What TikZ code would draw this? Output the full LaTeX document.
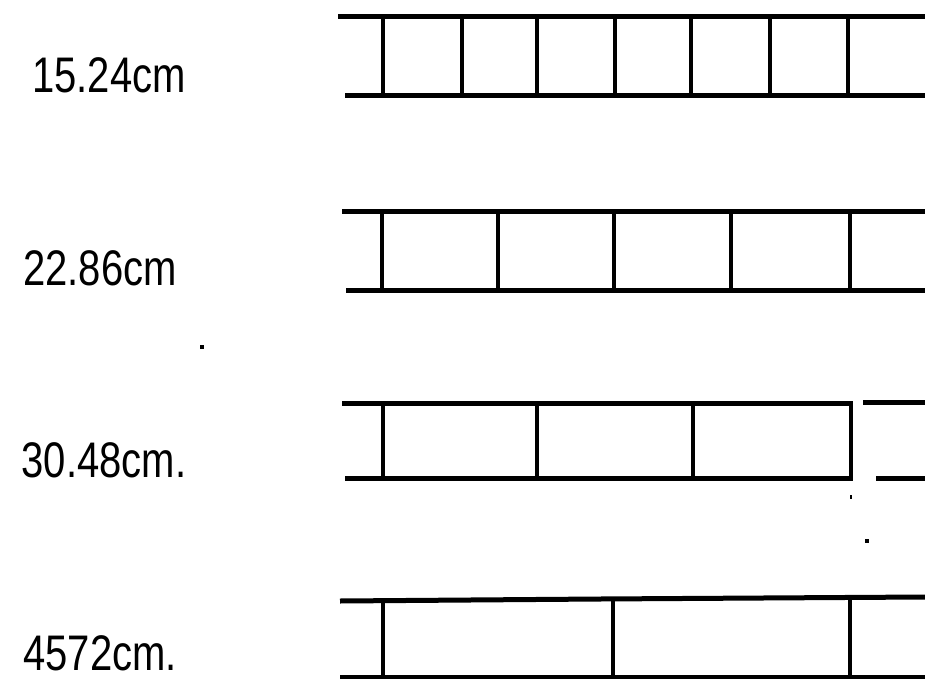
\documentclass[tikz,border=0pt]{standalone}
\usepackage{fontspec}
\setmainfont{Liberation Sans}
\begin{document}
\begin{tikzpicture}[x=1pt,y=-1pt,
  rail/.style={line width=5pt},
  post/.style={line width=3.6pt},
  lbl/.style={font=\fontsize{50}{50}\selectfont, inner sep=0pt, xscale=0.8, transform shape},
  speck/.style={fill=black, inner sep=0pt, minimum size=4pt}]
\useasboundingbox (0,0) rectangle (925,679);
% labels
\node[lbl] (l1) at (109,75) {15.24cm};
\node[lbl] (l2) at (100,268) {22.86cm};
\node[lbl] (l3) at (104,460) {30.48cm.};
\node[lbl] (l4) at (100,653) {4572cm.};
% row 1
\draw[rail] (338,17) -- (925,17);
\draw[rail] (345,96) -- (925,96);
\foreach \x in {383,462,537,615,691,770,848}
  \draw[post] (\x,17) -- (\x,96);
% row 2
\draw[rail] (342,211) -- (925,211);
\draw[rail] (346,290) -- (925,290);
\foreach \x in {382,498,614,731,850}
  \draw[post] (\x,211) -- (\x,290);
% row 3
\draw[rail] (342,403) -- (853,403);
\draw[rail] (863,402) -- (925,402);
\draw[rail] (345,478) -- (853,478);
\draw[rail] (876,478) -- (925,478);
\foreach \x in {383,537,693,851}
  \draw[post] (\x,403) -- (\x,478);
\draw[line width=2pt] (851,495) -- (851,499);
% row 4
\draw[rail] (340,601) -- (600,599) -- (925,597);
\draw[rail] (340,677) -- (925,677);
\foreach \x in {383,613,850}
  \draw[post] (\x,600) -- (\x,677);
% stray specks
\node[speck] (s1) at (202,347) {};
\node[speck] (s2) at (867,541) {};
\end{tikzpicture}
\end{document}
